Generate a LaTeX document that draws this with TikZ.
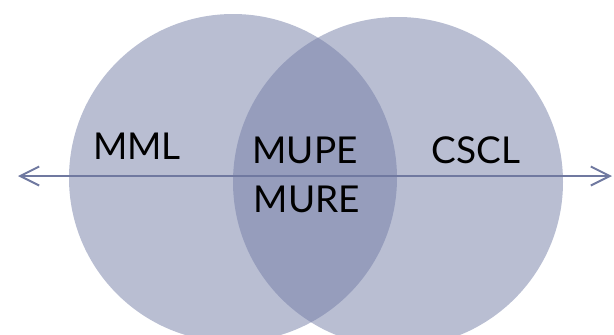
\documentclass[tikz,border=0pt]{standalone}
\usepackage{fontspec}
\setmainfont{Lato}
\usetikzlibrary{arrows.meta}
\definecolor{vennfill}{RGB}{115,125,166}
\definecolor{axisline}{RGB}{112,121,160}

\begin{document}
\begin{tikzpicture}[x=1pt, y=1pt,
  set/.style={fill=vennfill, fill opacity=0.5},
  setlabel/.style={font=\fontsize{37}{48}\selectfont, text=black, inner sep=0pt}]

\useasboundingbox (0,0) rectangle (614,-335);
\clip (0,0) rectangle (614,-335);

% the two sets
\fill[set] (233,-178) circle[radius=164];
\fill[set] (398,-182) circle[radius=165];

% the axis
\coordinate (left end) at (18,-176);
\coordinate (right end) at (612,-176);
\draw[axisline, line width=2pt, {Straight Barb[length=19pt,width=19pt]}-{Straight Barb[length=19pt,width=19pt]}] (left end) -- (right end);

\node[setlabel] (mml) at (137,-146) {MML};
\node[setlabel] (mupe) at (305,-150) {MUPE};
\node[setlabel] (mure) at (307,-199) {MURE};
\node[setlabel] (cscl) at (476,-150) {CSCL};

\end{tikzpicture}
\end{document}
